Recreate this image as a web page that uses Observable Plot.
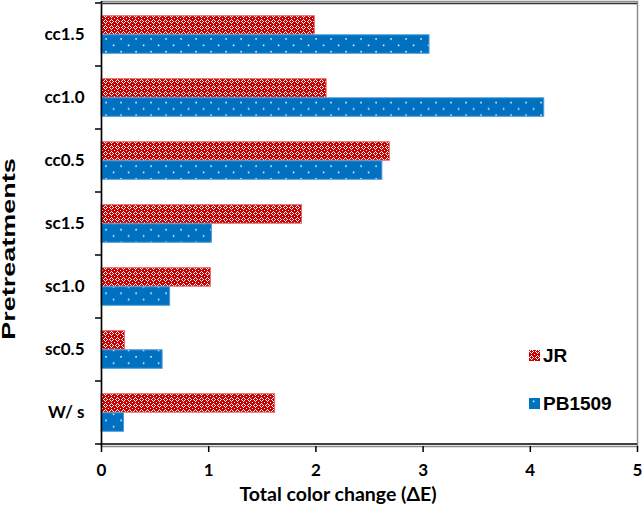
<!DOCTYPE html>
<html><head><meta charset="utf-8">
<script src="https://cdn.jsdelivr.net/npm/d3@7"></script>
<script src="https://cdn.jsdelivr.net/npm/@observablehq/plot@0.6"></script>
<style>
body{margin:0;background:#fff;}
#chart{position:relative;width:642px;height:515px;}
</style></head><body><div id="chart"></div>
<script>
// ---- data ----
const categories = ["W/ s","sc0.5","sc1.0","sc1.5","cc0.5","cc1.0","cc1.5"];
const seriesNames = ["JR","PB1509"];
const jrValues = [1.62,0.22,1.02,1.87,2.69,2.10,1.99];
const pbValues = [0.21,0.57,0.64,1.03,2.62,4.13,3.06];
const xTicks = [0,1,2,3,4,5];
const xTitle = "Total color change (ΔE)";
const yTitle = "Pretreatments";

(function () {
const W = 642, H = 515, mT = 1, mB = 69, mL = 101, mR = 5;
const step = (H - mT - mB) / categories.length;
const barH = 0.3 * step, gap = 0.2 * step;

const jrData = categories.map((c, i) => ({cat: c, series: seriesNames[0], value: jrValues[i]}));
const pbData = categories.map((c, i) => ({cat: c, series: seriesNames[1], value: pbValues[i]}));

const plot = Plot.plot({
  width: W, height: H,
  marginTop: mT, marginBottom: mB, marginLeft: mL, marginRight: mR,
  style: {fontFamily: "Lato, 'Open Sans', sans-serif", fontSize: "17px", fontWeight: "bold", color: "#000", background: "#fff", overflow: "visible"},
  x: {domain: [0, 5]},
  y: {domain: categories.slice().reverse(), padding: 0},
  marks: [
    Plot.frame({stroke: "#8c8c8c", strokeWidth: 1.5}),
    Plot.barX(jrData, {x: "value", y: "cat", fill: "url(#jrPat)", stroke: "#e06a6a", strokeWidth: 1, insetTop: gap, insetBottom: gap + barH}),
    Plot.barX(pbData, {x: "value", y: "cat", fill: "url(#pbPat)", stroke: "#4b9bd9", strokeWidth: 1, insetTop: gap + barH, insetBottom: gap}),
    Plot.ruleX([0], {stroke: "#000", strokeWidth: 1.5}),
    Plot.axisX({ticks: xTicks, tickFormat: d => String(d), tickSize: 6, tickPadding: 11, stroke: "#000", strokeWidth: 1.5, label: null, fontSize: 17}),
    Plot.axisY({tickSize: 0, tickPadding: 17, label: null, fontSize: 17})
  ]
});

const svg = d3.select(plot);
const defs = svg.insert("defs", ":first-child");
// red cross-hatch pattern
const jp = defs.append("pattern").attr("id", "jrPat").attr("patternUnits", "userSpaceOnUse").attr("width", 6).attr("height", 6);
jp.append("rect").attr("width", 6).attr("height", 6).attr("fill", "#c80000");
[[3,1],[2,2],[4,2],[1,3],[5,3],[2,4],[4,4],[3,5],[0,0]].forEach(([x,y]) =>
  jp.append("rect").attr("x", x).attr("y", y).attr("width", 1).attr("height", 1).attr("fill", "#fff"));
// blue dotted pattern
const bp = defs.append("pattern").attr("id", "pbPat").attr("patternUnits", "userSpaceOnUse").attr("width", 15).attr("height", step / 5);
bp.append("rect").attr("width", 15).attr("height", step / 5).attr("fill", "#0070c0");
[[0.3,0],[7.8,6.4]].forEach(([x,y]) =>
  bp.append("rect").attr("x", x).attr("y", y).attr("width", 1.6).attr("height", 1.6).attr("fill", "#e8f2fb"));

const xs = plot.scale("x"), ys = plot.scale("y");
const x0 = xs.apply(0), x1 = xs.apply(5);
const yTop = ys.apply(ys.domain[0]);
const yBot = ys.apply(ys.domain[ys.domain.length - 1]) + ys.bandwidth;
const g = svg.append("g").attr("stroke", "#000").attr("stroke-width", 1.5);
g.append("line").attr("x1", x0).attr("x2", x1).attr("y1", yTop + 0.5).attr("y2", yTop + 0.5).attr("stroke", "#333");
g.append("line").attr("x1", x0 - 0.75).attr("x2", x1).attr("y1", yBot).attr("y2", yBot);
ys.domain.forEach(c => {
  const y = ys.apply(c);
  g.append("line").attr("x1", x0 - 6).attr("x2", x0).attr("y1", y).attr("y2", y);
});
g.append("line").attr("x1", x0 - 6).attr("x2", x0).attr("y1", yBot).attr("y2", yBot);

// axis titles
svg.append("text").text(xTitle).attr("x", 338).attr("y", 501).attr("text-anchor", "middle")
  .attr("font-family", "Lato, sans-serif").attr("font-size", 19.5).attr("font-weight", "bold").attr("fill", "#000");
svg.append("text").text(yTitle).attr("transform", "translate(15,249) rotate(-90) scale(1.5,1)").attr("text-anchor", "middle")
  .attr("font-family", "'Liberation Sans', Arial, sans-serif").attr("font-size", 18).attr("font-weight", "bold").attr("fill", "#000");

// legend
const leg = svg.append("g").attr("font-family", "'Liberation Sans', Arial, sans-serif").attr("font-size", 19).attr("font-weight", "bold").attr("text-anchor", "start");
[["url(#jrPat)", 350, seriesNames[0]], ["url(#pbPat)", 398, seriesNames[1]]].forEach(([f, y, t]) => {
  leg.append("rect").attr("x", 529).attr("y", y).attr("width", 11).attr("height", 11).attr("fill", f);
  leg.append("text").attr("x", 543).attr("y", y + 12).attr("text-anchor", "start").text(t).attr("fill", "#000");
});

document.getElementById("chart").appendChild(plot);
})();
</script></body></html>
